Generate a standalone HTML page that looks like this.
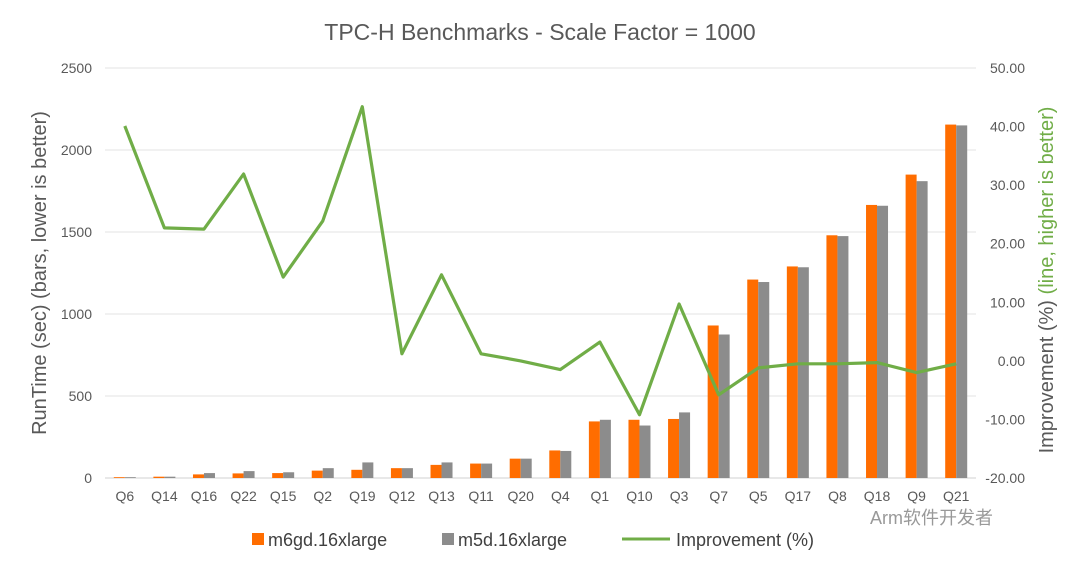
<!DOCTYPE html>
<html><head><meta charset="utf-8"><style>
body{margin:0;background:#fff;font-family:"Liberation Sans","Noto Sans CJK SC",sans-serif;}
svg text{font-family:"Liberation Sans","Noto Sans CJK SC",sans-serif;}
</style></head><body>
<svg id="chart" width="1080" height="568">
<text x="540" y="40" text-anchor="middle" font-size="23" fill="#595959">TPC-H Benchmarks - Scale Factor = 1000</text>
<g id="grid"></g><g id="bars"></g><g id="line"></g><g id="axes"></g>
<text transform="translate(46,273) rotate(-90)" text-anchor="middle" font-size="20" fill="#595959">RunTime (sec) (bars, lower is better)</text>
<text transform="translate(1053,280) rotate(-90)" text-anchor="middle" font-size="20" fill="#595959">Improvement (%) <tspan fill="#70ad47">(line, higher is better)</tspan></text>
<g>
<rect x="252" y="533" width="12" height="12" fill="#ff6d00"/>
<text x="268" y="546" font-size="18" fill="#404040">m6gd.16xlarge</text>
<rect x="442" y="533" width="12" height="12" fill="#8c8c8c"/>
<text x="458" y="546" font-size="18" fill="#404040">m5d.16xlarge</text>
<line x1="622" y1="539" x2="670" y2="539" stroke="#70ad47" stroke-width="3"/>
<text x="676" y="546" font-size="18" fill="#404040">Improvement (%)</text>
</g>
<text x="870" y="524" font-size="18" fill="#999">Arm软件开发者</text>
</svg>
<script>
const categories=["Q6","Q14","Q16","Q22","Q15","Q2","Q19","Q12","Q13","Q11","Q20","Q4","Q1","Q10","Q3","Q7","Q5","Q17","Q8","Q18","Q9","Q21"];
const m6gd=[5,8,22,28,30,45,50,60,80,88,118,168,345,355,360,930,1210,1290,1480,1665,1850,2155];
const m5d=[5,8,30,42,35,60,95,60,95,88,118,165,355,320,400,875,1195,1285,1475,1660,1810,2150];
const improvement=[40.1,22.7,22.5,31.9,14.3,23.9,43.4,1.2,14.7,1.2,0,-1.5,3.2,-9.2,9.7,-5.8,-1.2,-0.5,-0.5,-0.3,-2,-0.5];
const leftTicks=[0,500,1000,1500,2000,2500];
const rightTicks=[-20,-10,0,10,20,30,40,50];
const NS="http://www.w3.org/2000/svg";
const X0=105,X1=976,Y0=478,Y1=68;
const step=(X1-X0)/categories.length;
const yL=v=>Y0-(v/2500)*(Y0-Y1);
const yR=v=>Y0-((v+20)/70)*(Y0-Y1);
const xC=i=>X0+step*(i+0.5);
function mk(tag,attrs,parent,text){const e=document.createElementNS(NS,tag);for(const k in attrs)e.setAttribute(k,attrs[k]);if(text!==undefined)e.textContent=text;document.getElementById(parent).appendChild(e);return e;}
leftTicks.forEach(t=>{
 const g=mk("line",{x1:X0,x2:X1,y1:yL(t),y2:yL(t),stroke:t===0?"#d0d0d0":"#e3e3e3","stroke-width":1},"grid");
 
 
 const l=mk("text",{x:92,y:yL(t)+5,"text-anchor":"end","font-size":14,fill:"#595959"},"axes",String(t));
 
 
});
rightTicks.forEach(t=>{
 const l=mk("text",{x:1025,y:yR(t)+5,"text-anchor":"end","font-size":14,fill:"#595959"},"axes",t.toFixed(2));
 
 
});
categories.forEach((c,i)=>{
 const l=mk("text",{x:xC(i),y:501,"text-anchor":"middle","font-size":14,fill:"#595959"},"axes",c);
 
 
 const bw=11;
 const a=mk("rect",{x:xC(i)-bw,y:yL(m6gd[i]),width:bw,height:Y0-yL(m6gd[i]),fill:"#ff6d00"},"bars");
 
 
 const b=mk("rect",{x:xC(i),y:yL(m5d[i]),width:bw,height:Y0-yL(m5d[i]),fill:"#8c8c8c"},"bars");
 
 
});
const pts=improvement.map((v,i)=>xC(i).toFixed(1)+","+yR(v).toFixed(1)).join(" ");
const pl=mk("polyline",{points:pts,fill:"none",stroke:"#70ad47","stroke-width":3.2,"stroke-linejoin":"round"},"line");


</script>
</body></html>
